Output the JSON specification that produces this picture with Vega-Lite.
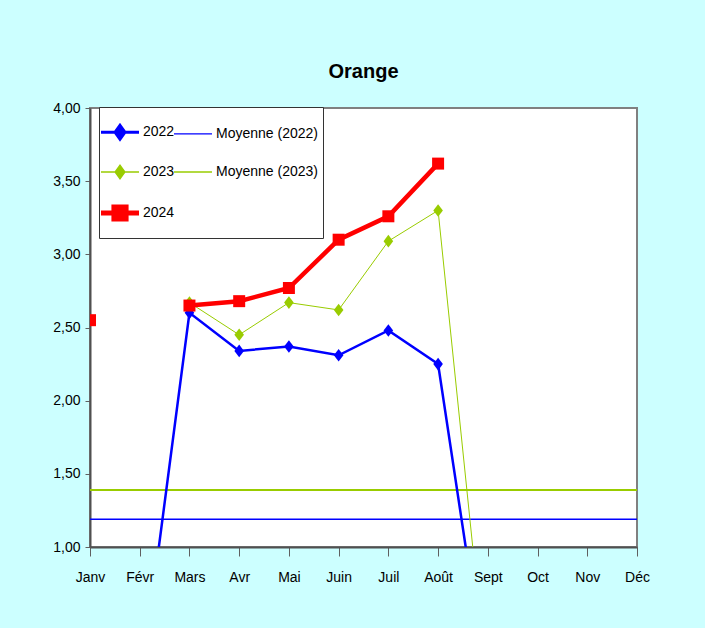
{
  "$schema": "https://vega.github.io/schema/vega-lite/v6.json",
  "autosize": "none",
  "width": 547,
  "height": 439,
  "padding": {"left": 90, "top": 108, "right": 68, "bottom": 81},
  "background": "#CCFFFF",
  "title": {
    "text": "Orange",
    "font": "Liberation Sans",
    "fontSize": 20,
    "fontWeight": "bold",
    "color": "black",
    "anchor": "middle",
    "frame": "group",
    "offset": 19
  },
  "config": {
    "view": {"stroke": "#808080", "strokeWidth": 2, "fill": "white"},
    "axis": {
      "labelFont": "Liberation Sans",
      "labelFontSize": 14,
      "labelColor": "black",
      "domainColor": "#505050",
      "domainWidth": 2,
      "tickColor": "#606060",
      "grid": false,
      "title": null
    }
  },
  "data": {
    "values": [
      {"month": "Févr", "series": "2022", "value": 0},
      {"month": "Mars", "series": "2022", "value": 2.60},
      {"month": "Avr", "series": "2022", "value": 2.34},
      {"month": "Mai", "series": "2022", "value": 2.37},
      {"month": "Juin", "series": "2022", "value": 2.31},
      {"month": "Juil", "series": "2022", "value": 2.48},
      {"month": "Août", "series": "2022", "value": 2.25},
      {"month": "Sept", "series": "2022", "value": 0},
      {"month": "Mars", "series": "2023", "value": 2.67},
      {"month": "Avr", "series": "2023", "value": 2.45},
      {"month": "Mai", "series": "2023", "value": 2.67},
      {"month": "Juin", "series": "2023", "value": 2.62},
      {"month": "Juil", "series": "2023", "value": 3.09},
      {"month": "Août", "series": "2023", "value": 3.30},
      {"month": "Sept", "series": "2023", "value": 0},
      {"month": "Janv", "series": "2024", "value": 2.55},
      {"month": "Févr", "series": "2024", "value": null},
      {"month": "Mars", "series": "2024", "value": 2.65},
      {"month": "Avr", "series": "2024", "value": 2.68},
      {"month": "Mai", "series": "2024", "value": 2.77},
      {"month": "Juin", "series": "2024", "value": 3.10},
      {"month": "Juil", "series": "2024", "value": 3.26},
      {"month": "Août", "series": "2024", "value": 3.62},
      {"month": "Janv", "series": "Moyenne (2022)", "value": 1.19},
      {"month": "Févr", "series": "Moyenne (2022)", "value": 1.19},
      {"month": "Mars", "series": "Moyenne (2022)", "value": 1.19},
      {"month": "Avr", "series": "Moyenne (2022)", "value": 1.19},
      {"month": "Mai", "series": "Moyenne (2022)", "value": 1.19},
      {"month": "Juin", "series": "Moyenne (2022)", "value": 1.19},
      {"month": "Juil", "series": "Moyenne (2022)", "value": 1.19},
      {"month": "Août", "series": "Moyenne (2022)", "value": 1.19},
      {"month": "Sept", "series": "Moyenne (2022)", "value": 1.19},
      {"month": "Oct", "series": "Moyenne (2022)", "value": 1.19},
      {"month": "Nov", "series": "Moyenne (2022)", "value": 1.19},
      {"month": "Déc", "series": "Moyenne (2022)", "value": 1.19},
      {"month": "Janv", "series": "Moyenne (2023)", "value": 1.39},
      {"month": "Févr", "series": "Moyenne (2023)", "value": 1.39},
      {"month": "Mars", "series": "Moyenne (2023)", "value": 1.39},
      {"month": "Avr", "series": "Moyenne (2023)", "value": 1.39},
      {"month": "Mai", "series": "Moyenne (2023)", "value": 1.39},
      {"month": "Juin", "series": "Moyenne (2023)", "value": 1.39},
      {"month": "Juil", "series": "Moyenne (2023)", "value": 1.39},
      {"month": "Août", "series": "Moyenne (2023)", "value": 1.39},
      {"month": "Sept", "series": "Moyenne (2023)", "value": 1.39},
      {"month": "Oct", "series": "Moyenne (2023)", "value": 1.39},
      {"month": "Nov", "series": "Moyenne (2023)", "value": 1.39},
      {"month": "Déc", "series": "Moyenne (2023)", "value": 1.39}
    ]
  },
  "encoding": {
    "x": {
      "field": "month",
      "type": "ordinal",
      "scale": {"type": "point", "padding": 0, "domain": ["Janv", "Févr", "Mars", "Avr", "Mai", "Juin", "Juil", "Août", "Sept", "Oct", "Nov", "Déc"]},
      "axis": {"labelAngle": 0, "tickSize": 9, "labelPadding": 14, "tickWidth": 1}
    },
    "y": {
      "field": "value",
      "type": "quantitative",
      "scale": {"domain": [1, 4], "nice": false, "zero": false},
      "axis": {"values": [1, 1.5, 2, 2.5, 3, 3.5, 4], "labelExpr": "replace(format(datum.value, '.2f'), '.', ',')", "tickSize": 5, "labelPadding": 5}
    },
    "color": {
      "field": "series",
      "type": "nominal",
      "scale": {
        "domain": ["2022", "Moyenne (2022)", "2023", "Moyenne (2023)", "2024"],
        "range": ["#0000FF", "#0000FF", "#99CC00", "#99CC00", "#FF0000"]
      },
      "legend": {
        "orient": "none",
        "direction": "horizontal",
        "legendX": 9,
        "legendY": -1,
        "columns": 2,
        "title": " ",
        "titleFontSize": 10,
        "titlePadding": 3,
        "fillColor": "white",
        "strokeColor": "#333333",
        "padding": 5,
        "labelFont": "Liberation Sans",
        "labelFontSize": 14,
        "labelColor": "black",
        "labelOffset": 16,
        "symbolOffset": 9,
        "symbolSize": 1444,
        "rowPadding": 11,
        "columnPadding": -4,
        "encode": {
          "symbols": {
            "update": {
              "shape": {"signal": "indexof(['Moyenne (2022)','Moyenne (2023)'], datum.value) >= 0 ? 'M-1,0H1M0,-0.5M0,0.5' : datum.value == '2024' ? 'M-1,0H1M-0.32,-0.32H0.32V0.32H-0.32ZM0,-0.34M0,0.5' : 'M-1,0H1M0,-0.36L0.26,0L0,0.36L-0.26,0ZM0,-0.5M0,0.5'"},
              "fill": {"signal": "scale('color', datum.value)"},
              "stroke": {"signal": "scale('color', datum.value)"},
              "strokeWidth": {"signal": "datum.value == '2024' ? 5 : datum.value == '2022' ? 3 : 1.3"},
              "opacity": {"value": 1},
              "fillOpacity": {"value": 1},
              "strokeOpacity": {"value": 1}
            }
          }
        }
      }
    }
  },
  "layer": [
    {
      "transform": [{"filter": "datum.series == 'Moyenne (2023)'"}],
      "mark": {"type": "line", "strokeWidth": 2, "clip": true}
    },
    {
      "transform": [{"filter": "datum.series == 'Moyenne (2022)'"}],
      "mark": {"type": "line", "strokeWidth": 1.5, "clip": true}
    },
    {
      "transform": [{"filter": "datum.series == '2022'"}],
      "mark": {"type": "line", "strokeWidth": 2.5, "clip": true}
    },
    {
      "transform": [{"filter": "datum.series == '2023'"}],
      "mark": {"type": "line", "strokeWidth": 1, "clip": true}
    },
    {
      "transform": [{"filter": "datum.series == '2022' || datum.series == '2023'"}],
      "mark": {"type": "point", "filled": true, "opacity": 1, "size": 144, "shape": "M0,-1.05L0.8,0L0,1.05L-0.8,0Z", "clip": true}
    },
    {
      "transform": [{"filter": "datum.series == '2024'"}],
      "mark": {"type": "line", "strokeWidth": 4.5, "clip": true, "invalid": "break-paths-filter-domains"}
    },
    {
      "transform": [{"filter": "datum.series == '2024' && isValid(datum.value)"}],
      "mark": {"type": "point", "filled": true, "opacity": 1, "size": 144, "shape": "square", "clip": true}
    }
  ]
}
